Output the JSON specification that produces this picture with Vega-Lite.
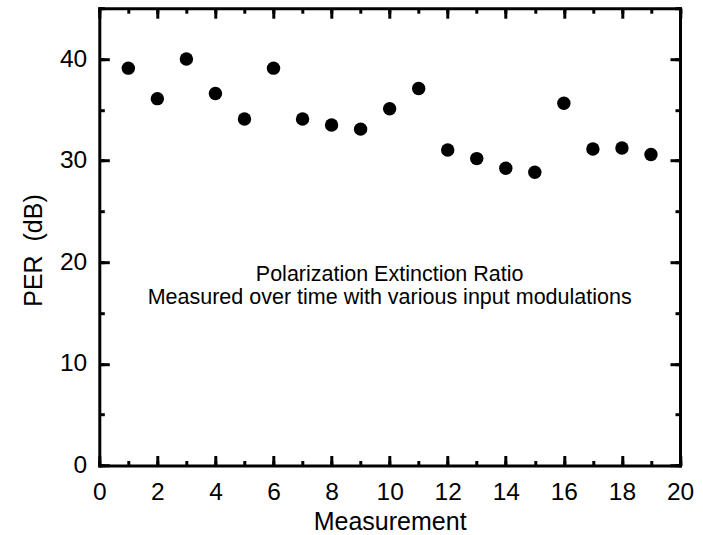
{
  "$schema": "https://vega.github.io/schema/vega-lite/v6.json",
  "width": 580.7,
  "height": 457.3,
  "autosize": "none",
  "padding": {"left": 99.3, "top": 8.2, "right": 23, "bottom": 69.5},
  "background": "white",
  "config": {
    "view": {"stroke": null},
    "axis": {"grid": false, "labelFont": "Liberation Sans", "titleFont": "Liberation Sans", "labelColor": "black", "titleColor": "black", "tickColor": "black", "domainColor": "black", "titleFontWeight": "normal", "tickWidth": 3, "domainWidth": 3, "domainCap": "square", "labelFlush": false, "labelOverlap": false}
  },
  "data": {
    "values": [
      {"m": 1, "per": 39.1},
      {"m": 2, "per": 36.1},
      {"m": 3, "per": 40.0},
      {"m": 4, "per": 36.6},
      {"m": 5, "per": 34.1},
      {"m": 6, "per": 39.1},
      {"m": 7, "per": 34.1},
      {"m": 8, "per": 33.5},
      {"m": 9, "per": 33.1},
      {"m": 10, "per": 35.1},
      {"m": 11, "per": 37.1},
      {"m": 12, "per": 31.05},
      {"m": 13, "per": 30.2},
      {"m": 14, "per": 29.25},
      {"m": 15, "per": 28.85},
      {"m": 16, "per": 35.65},
      {"m": 17, "per": 31.15},
      {"m": 18, "per": 31.25},
      {"m": 19, "per": 30.6}
    ]
  },
  "resolve": {"axis": {"x": "independent", "y": "independent"}},
  "layer": [
    {
      "mark": {"type": "circle", "size": 180, "color": "black", "opacity": 1},
      "encoding": {
        "x": {"field": "m", "type": "quantitative", "scale": {"domain": [0, 20], "nice": false, "zero": false},
          "axis": {"orient": "bottom", "values": [0, 2, 4, 6, 8, 10, 12, 14, 16, 18, 20], "tickSize": -10, "labelFontSize": 24.5, "labelBaseline": "alphabetic", "labelPadding": 44.2, "title": "Measurement", "titleFontSize": 25, "titleBaseline": "alphabetic", "titleY": 64}},
        "y": {"field": "per", "type": "quantitative", "scale": {"domain": [0, 45], "nice": false, "zero": false},
          "axis": {"orient": "left", "values": [0, 10, 20, 30, 40], "tickSize": -10, "labelFontSize": 24.5, "labelBaseline": "middle", "labelPadding": 22.6, "title": "PER\u00a0 (dB)", "titleFontSize": 25, "titleAngle": -90, "titleBaseline": "alphabetic", "titleAlign": "center", "titleX": -57.6, "titleY": 241.8}}
      }
    },
    {
      "mark": {"type": "point", "opacity": 0},
      "encoding": {
        "x": {"field": "m", "type": "quantitative", "axis": {"orient": "bottom", "values": [0,1,2,3,4,5,6,7,8,9,10,11,12,13,14,15,16,17,18,19,20], "tickSize": -5, "labels": false, "domain": false, "title": null}},
        "y": {"field": "per", "type": "quantitative", "axis": {"orient": "left", "values": [0,5,10,15,20,25,30,35,40,45], "tickSize": -5, "labels": false, "domain": false, "title": null}}
      }
    },
    {
      "mark": {"type": "point", "opacity": 0},
      "encoding": {
        "x": {"field": "m", "type": "quantitative", "axis": {"orient": "top", "values": [0, 2, 4, 6, 8, 10, 12, 14, 16, 18, 20], "tickSize": -10, "labels": false, "title": null}},
        "y": {"field": "per", "type": "quantitative", "axis": {"orient": "right", "values": [0, 10, 20, 30, 40], "tickSize": -10, "labels": false, "title": null}}
      }
    },
    {
      "mark": {"type": "point", "opacity": 0},
      "encoding": {
        "x": {"field": "m", "type": "quantitative", "axis": {"orient": "top", "values": [0,1,2,3,4,5,6,7,8,9,10,11,12,13,14,15,16,17,18,19,20], "tickSize": -5, "labels": false, "domain": false, "title": null}},
        "y": {"field": "per", "type": "quantitative", "axis": {"orient": "right", "values": [0,5,10,15,20,25,30,35,40,45], "tickSize": -5, "labels": false, "domain": false, "title": null}}
      }
    },
    {
      "data": {"values": [{}]},
      "mark": {"type": "text", "text": ["Polarization Extinction Ratio", "Measured over time with various input modulations"], "font": "Liberation Sans", "fontSize": 21.5, "lineHeight": 23, "align": "center", "baseline": "alphabetic", "color": "black"},
      "encoding": {
        "x": {"datum": 10, "type": "quantitative", "axis": null},
        "y": {"datum": 18.2, "type": "quantitative", "axis": null}
      }
    }
  ]
}
